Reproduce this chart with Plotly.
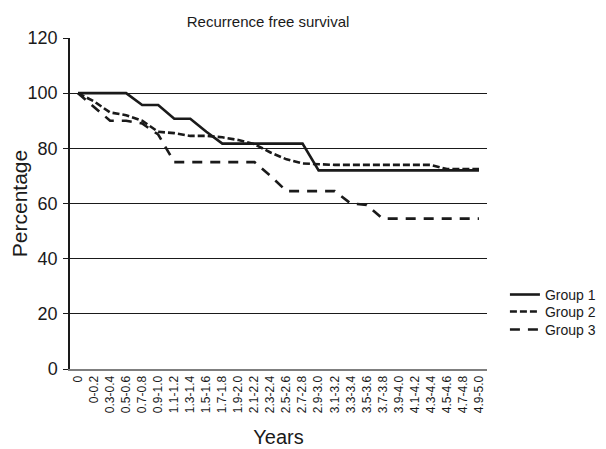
import plotly.graph_objects as go

categories = ["0", "0-0.2", "0.3-0.4", "0.5-0.6", "0.7-0.8", "0.9-1.0", "1.1-1.2", "1.3-1.4",
              "1.5-1.6", "1.7-1.8", "1.9-2.0", "2.1-2.2", "2.3-2.4", "2.5-2.6", "2.7-2.8",
              "2.9-3.0", "3.1-3.2", "3.3-3.4", "3.5-3.6", "3.7-3.8", "3.9-4.0", "4.1-4.2",
              "4.3-4.4", "4.5-4.6", "4.7-4.8", "4.9-5.0"]

group1 = [100, 100, 100, 100, 95.7, 95.7, 90.7, 90.7, 86, 81.7, 81.7, 81.7, 81.7, 81.7,
          81.7, 72, 72, 72, 72, 72, 72, 72, 72, 72, 72, 72]
group2 = [100, 97, 93, 92, 90, 86, 85.5, 84.5, 84.5, 84, 83, 81.5, 78.5, 76, 74.5,
          74.2, 74, 74, 74, 74, 74, 74, 74, 72.5, 72.5, 72.5]
group3 = [100, 95, 90, 90, 89, 85, 75, 75, 75, 75, 75, 75, 70, 64.5, 64.5, 64.5, 64.5,
          60, 59.5, 54.5, 54.5, 54.5, 54.5, 54.5, 54.5, 54.5]

y_ticks = [0, 20, 40, 60, 80, 100, 120]

FONT = "Liberation Sans, Arial, sans-serif"
INK = "#1a1a1a"

fig = go.Figure()
fig.add_trace(go.Scatter(x=categories, y=group1, mode="lines", name="Group 1", legend="legend",
                         line=dict(color=INK, width=2.6, dash="solid")))
fig.add_trace(go.Scatter(x=categories, y=group2, mode="lines", name="Group 2", legend="legend2",
                         line=dict(color=INK, width=2.6, dash="7px,3px")))
fig.add_trace(go.Scatter(x=categories, y=group3, mode="lines", name="Group 3", legend="legend3",
                         line=dict(color=INK, width=2.6, dash="10px,8px")))

def legend_box(yc):
    return dict(xref="container", x=0.82, xanchor="left",
                yref="container", y=yc, yanchor="middle",
                font=dict(size=14, color=INK, family=FONT),
                bgcolor="rgba(0,0,0,0)", itemwidth=30)

fig.update_layout(
    width=606, height=449, autosize=False,
    margin=dict(l=62, r=127, t=30, b=88, autoexpand=False),
    paper_bgcolor="white", plot_bgcolor="white",
    font=dict(family=FONT, color=INK),
    title=dict(text="Recurrence free survival", font=dict(size=15, color=INK, family=FONT),
               xref="paper", x=0.475, xanchor="center",
               yref="container", y=1 - 14 / 449, yanchor="middle"),
    showlegend=True,
    legend=legend_box(0.361),
    legend2=legend_box(0.323),
    legend3=legend_box(0.283),
    xaxis=dict(type="category", range=[-0.5, 25.5], tickangle=-90,
               tickfont=dict(size=12, color=INK, family=FONT),
               showgrid=False, showline=True, linecolor="#7f7f7f", linewidth=2,
               ticks="", zeroline=False, automargin=False,
               title=dict(text="Years", font=dict(size=20, color=INK, family=FONT), standoff=18)),
    yaxis=dict(range=[0, 120], tickvals=y_ticks, ticktext=[str(v) for v in y_ticks],
               tickfont=dict(size=18, color=INK, family=FONT),
               showgrid=True, gridcolor=INK, gridwidth=1,
               showline=True, linecolor=INK, linewidth=1.5,
               ticks="outside", ticklen=5, tickcolor=INK, tickwidth=1,
               ticklabelstandoff=2, automargin=False,
               zeroline=False,
               title=dict(text="Percentage", font=dict(size=21, color=INK, family=FONT), standoff=6)),
)

fig.write_html("out.html")
